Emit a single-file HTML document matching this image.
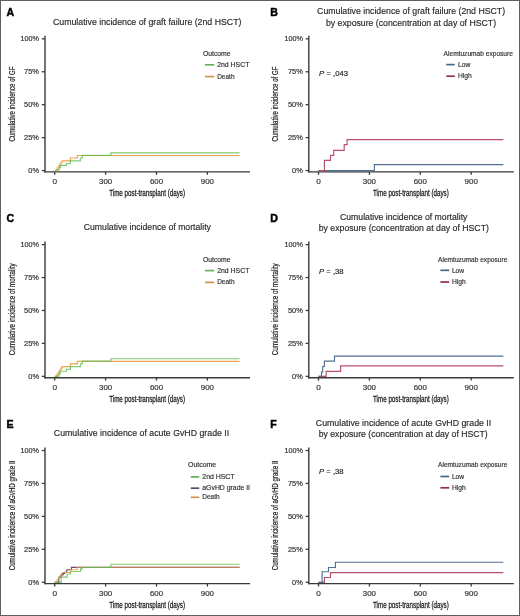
<!DOCTYPE html>
<html><head><meta charset="utf-8"><style>
html,body{margin:0;padding:0;background:#fff;}
.fig{position:relative;width:520px;height:616px;background:#fff;overflow:hidden;}
svg{position:absolute;left:0;top:0;will-change:transform;}
text{font-family:"Liberation Sans", sans-serif;}
</style></head><body>
<div class="fig"><svg width="520" height="616" viewBox="0 0 520 616">
<text x="6.50" y="15.80" font-size="10.6" font-weight="bold" fill="#000" stroke="#000" stroke-width="0.45">A</text>
<text x="147.20" y="25.05" font-size="9.7" text-anchor="middle" textLength="188.50" lengthAdjust="spacingAndGlyphs" fill="#2a2a2a" stroke="#2a2a2a" stroke-width="0.18">Cumulative incidence of graft failure (2nd HSCT)</text>
<line x1="45.00" y1="35.80" x2="45.00" y2="172.60" stroke="#3a3a3a" stroke-width="1.4"/>
<line x1="44.30" y1="171.90" x2="250.00" y2="171.90" stroke="#3a3a3a" stroke-width="1.4"/>
<line x1="41.80" y1="170.55" x2="45.00" y2="170.55" stroke="#3a3a3a" stroke-width="1.3"/>
<text x="39.00" y="173.15" font-size="7.2" text-anchor="end" textLength="10.70" lengthAdjust="spacingAndGlyphs" fill="#333" stroke="#333" stroke-width="0.18">0%</text>
<line x1="41.80" y1="137.62" x2="45.00" y2="137.62" stroke="#3a3a3a" stroke-width="1.3"/>
<text x="39.00" y="140.22" font-size="7.2" text-anchor="end" textLength="14.90" lengthAdjust="spacingAndGlyphs" fill="#333" stroke="#333" stroke-width="0.18">25%</text>
<line x1="41.80" y1="104.69" x2="45.00" y2="104.69" stroke="#3a3a3a" stroke-width="1.3"/>
<text x="39.00" y="107.29" font-size="7.2" text-anchor="end" textLength="14.90" lengthAdjust="spacingAndGlyphs" fill="#333" stroke="#333" stroke-width="0.18">50%</text>
<line x1="41.80" y1="71.76" x2="45.00" y2="71.76" stroke="#3a3a3a" stroke-width="1.3"/>
<text x="39.00" y="74.36" font-size="7.2" text-anchor="end" textLength="14.90" lengthAdjust="spacingAndGlyphs" fill="#333" stroke="#333" stroke-width="0.18">75%</text>
<line x1="41.80" y1="38.83" x2="45.00" y2="38.83" stroke="#3a3a3a" stroke-width="1.3"/>
<text x="39.00" y="41.43" font-size="7.2" text-anchor="end" textLength="18.40" lengthAdjust="spacingAndGlyphs" fill="#333" stroke="#333" stroke-width="0.18">100%</text>
<line x1="54.70" y1="172.00" x2="54.70" y2="174.80" stroke="#3a3a3a" stroke-width="1.3"/>
<text x="54.70" y="184.40" font-size="7.6" text-anchor="middle" textLength="4.60" lengthAdjust="spacingAndGlyphs" fill="#333" stroke="#333" stroke-width="0.18">0</text>
<line x1="105.60" y1="172.00" x2="105.60" y2="174.80" stroke="#3a3a3a" stroke-width="1.3"/>
<text x="105.60" y="184.40" font-size="7.6" text-anchor="middle" textLength="13.20" lengthAdjust="spacingAndGlyphs" fill="#333" stroke="#333" stroke-width="0.18">300</text>
<line x1="156.50" y1="172.00" x2="156.50" y2="174.80" stroke="#3a3a3a" stroke-width="1.3"/>
<text x="156.50" y="184.40" font-size="7.6" text-anchor="middle" textLength="13.20" lengthAdjust="spacingAndGlyphs" fill="#333" stroke="#333" stroke-width="0.18">600</text>
<line x1="207.40" y1="172.00" x2="207.40" y2="174.80" stroke="#3a3a3a" stroke-width="1.3"/>
<text x="207.40" y="184.40" font-size="7.6" text-anchor="middle" textLength="13.20" lengthAdjust="spacingAndGlyphs" fill="#333" stroke="#333" stroke-width="0.18">900</text>
<text x="147.10" y="195.80" font-size="8.6" text-anchor="middle" textLength="75.80" lengthAdjust="spacingAndGlyphs" fill="#222" stroke="#222" stroke-width="0.27">Time post-transplant (days)</text>
<text transform="translate(14.60,104.10) rotate(-90)" x="0" y="0" font-size="8.2" text-anchor="middle" textLength="75.00" lengthAdjust="spacingAndGlyphs" fill="#222" stroke="#222" stroke-width="0.2">Cumulative incidence of GF</text>
<text x="202.90" y="55.80" font-size="6.9" textLength="27.70" lengthAdjust="spacingAndGlyphs" fill="#333" stroke="#333" stroke-width="0.18">Outcome</text>
<line x1="205.00" y1="64.80" x2="214.20" y2="64.80" stroke="#62b457" stroke-width="1.7"/>
<text x="217.20" y="67.00" font-size="6.9" textLength="32.20" lengthAdjust="spacingAndGlyphs" fill="#333" stroke="#333" stroke-width="0.18">2nd HSCT</text>
<line x1="205.00" y1="76.60" x2="214.20" y2="76.60" stroke="#d0924c" stroke-width="1.7"/>
<text x="217.20" y="78.50" font-size="6.9" textLength="17.30" lengthAdjust="spacingAndGlyphs" fill="#333" stroke="#333" stroke-width="0.18">Death</text>
<path d="M54.70,170.60 L56.30,170.60 L56.30,169.50 L57.20,169.50 L57.20,168.00 L58.20,168.00 L58.20,166.50 L59.20,166.50 L59.20,165.00 L60.20,165.00 L60.20,163.50 L61.20,163.50 L61.20,162.00 L62.30,162.00 L62.30,160.80 L70.40,160.80 L70.40,158.00 L77.30,158.00 L77.30,155.50 L239.60,155.50" fill="none" stroke="#e9a552" stroke-width="1.15" stroke-linejoin="miter"/>
<path d="M54.70,170.60 L58.60,170.60 L58.60,169.00 L59.60,169.00 L59.60,167.30 L60.60,167.30 L60.60,165.40 L66.50,165.40 L66.50,163.50 L70.40,163.50 L70.40,160.80 L80.40,160.80 L80.40,158.00 L82.30,158.00 L82.30,155.30 L110.80,155.30 L110.80,152.90 L239.60,152.90" fill="none" stroke="#62bd55" stroke-width="1.15" stroke-linejoin="miter" stroke-opacity="0.8"/>
<text x="270.30" y="15.80" font-size="10.6" font-weight="bold" fill="#000" stroke="#000" stroke-width="0.45">B</text>
<text x="411.10" y="13.75" font-size="9.7" text-anchor="middle" textLength="188.00" lengthAdjust="spacingAndGlyphs" fill="#2a2a2a" stroke="#2a2a2a" stroke-width="0.18">Cumulative incidence of graft failure (2nd HSCT)</text>
<text x="411.00" y="25.65" font-size="9.7" text-anchor="middle" textLength="170.10" lengthAdjust="spacingAndGlyphs" fill="#2a2a2a" stroke="#2a2a2a" stroke-width="0.18">by exposure (concentration at day of HSCT)</text>
<line x1="308.80" y1="35.80" x2="308.80" y2="172.60" stroke="#3a3a3a" stroke-width="1.4"/>
<line x1="308.10" y1="171.90" x2="513.80" y2="171.90" stroke="#3a3a3a" stroke-width="1.4"/>
<line x1="305.60" y1="170.55" x2="308.80" y2="170.55" stroke="#3a3a3a" stroke-width="1.3"/>
<text x="302.80" y="173.15" font-size="7.2" text-anchor="end" textLength="10.70" lengthAdjust="spacingAndGlyphs" fill="#333" stroke="#333" stroke-width="0.18">0%</text>
<line x1="305.60" y1="137.62" x2="308.80" y2="137.62" stroke="#3a3a3a" stroke-width="1.3"/>
<text x="302.80" y="140.22" font-size="7.2" text-anchor="end" textLength="14.90" lengthAdjust="spacingAndGlyphs" fill="#333" stroke="#333" stroke-width="0.18">25%</text>
<line x1="305.60" y1="104.69" x2="308.80" y2="104.69" stroke="#3a3a3a" stroke-width="1.3"/>
<text x="302.80" y="107.29" font-size="7.2" text-anchor="end" textLength="14.90" lengthAdjust="spacingAndGlyphs" fill="#333" stroke="#333" stroke-width="0.18">50%</text>
<line x1="305.60" y1="71.76" x2="308.80" y2="71.76" stroke="#3a3a3a" stroke-width="1.3"/>
<text x="302.80" y="74.36" font-size="7.2" text-anchor="end" textLength="14.90" lengthAdjust="spacingAndGlyphs" fill="#333" stroke="#333" stroke-width="0.18">75%</text>
<line x1="305.60" y1="38.83" x2="308.80" y2="38.83" stroke="#3a3a3a" stroke-width="1.3"/>
<text x="302.80" y="41.43" font-size="7.2" text-anchor="end" textLength="18.40" lengthAdjust="spacingAndGlyphs" fill="#333" stroke="#333" stroke-width="0.18">100%</text>
<line x1="318.50" y1="172.00" x2="318.50" y2="174.80" stroke="#3a3a3a" stroke-width="1.3"/>
<text x="318.50" y="184.40" font-size="7.6" text-anchor="middle" textLength="4.60" lengthAdjust="spacingAndGlyphs" fill="#333" stroke="#333" stroke-width="0.18">0</text>
<line x1="369.40" y1="172.00" x2="369.40" y2="174.80" stroke="#3a3a3a" stroke-width="1.3"/>
<text x="369.40" y="184.40" font-size="7.6" text-anchor="middle" textLength="13.20" lengthAdjust="spacingAndGlyphs" fill="#333" stroke="#333" stroke-width="0.18">300</text>
<line x1="420.30" y1="172.00" x2="420.30" y2="174.80" stroke="#3a3a3a" stroke-width="1.3"/>
<text x="420.30" y="184.40" font-size="7.6" text-anchor="middle" textLength="13.20" lengthAdjust="spacingAndGlyphs" fill="#333" stroke="#333" stroke-width="0.18">600</text>
<line x1="471.20" y1="172.00" x2="471.20" y2="174.80" stroke="#3a3a3a" stroke-width="1.3"/>
<text x="471.20" y="184.40" font-size="7.6" text-anchor="middle" textLength="13.20" lengthAdjust="spacingAndGlyphs" fill="#333" stroke="#333" stroke-width="0.18">900</text>
<text x="410.90" y="195.80" font-size="8.6" text-anchor="middle" textLength="75.80" lengthAdjust="spacingAndGlyphs" fill="#222" stroke="#222" stroke-width="0.27">Time post-transplant (days)</text>
<text transform="translate(278.40,104.10) rotate(-90)" x="0" y="0" font-size="8.2" text-anchor="middle" textLength="75.00" lengthAdjust="spacingAndGlyphs" fill="#222" stroke="#222" stroke-width="0.2">Cumulative incidence of GF</text>
<text x="443.60" y="55.70" font-size="6.9" textLength="69.30" lengthAdjust="spacingAndGlyphs" fill="#333" stroke="#333" stroke-width="0.18">Alemtuzumab exposure</text>
<line x1="446.30" y1="64.60" x2="454.80" y2="64.60" stroke="#3f6a8c" stroke-width="1.7"/>
<text x="458.00" y="66.90" font-size="6.9" textLength="12.30" lengthAdjust="spacingAndGlyphs" fill="#333" stroke="#333" stroke-width="0.18">Low</text>
<line x1="446.30" y1="76.20" x2="454.80" y2="76.20" stroke="#962f4e" stroke-width="1.7"/>
<text x="458.00" y="78.30" font-size="6.9" textLength="13.80" lengthAdjust="spacingAndGlyphs" fill="#333" stroke="#333" stroke-width="0.18">High</text>
<text x="319.10" y="75.60" font-size="8.1" textLength="29.00" lengthAdjust="spacingAndGlyphs" fill="#222" stroke="#222" stroke-width="0.18"><tspan font-style="italic">P</tspan> = ,043</text>
<path d="M318.50,170.60 L374.40,170.60 L374.40,164.60 L503.40,164.60" fill="none" stroke="#52708f" stroke-width="1.15" stroke-linejoin="miter"/>
<path d="M318.50,170.60 L324.40,170.60 L324.40,160.30 L330.50,160.30 L330.50,155.30 L333.70,155.30 L333.70,150.40 L344.20,150.40 L344.20,144.60 L347.10,144.60 L347.10,139.60 L503.40,139.60" fill="none" stroke="#b94f69" stroke-width="1.15" stroke-linejoin="miter"/>
<text x="6.50" y="221.60" font-size="10.6" font-weight="bold" fill="#000" stroke="#000" stroke-width="0.45">C</text>
<text x="147.35" y="230.25" font-size="9.7" text-anchor="middle" textLength="127.10" lengthAdjust="spacingAndGlyphs" fill="#2a2a2a" stroke="#2a2a2a" stroke-width="0.18">Cumulative incidence of mortality</text>
<line x1="45.00" y1="241.60" x2="45.00" y2="378.40" stroke="#3a3a3a" stroke-width="1.4"/>
<line x1="44.30" y1="377.70" x2="250.00" y2="377.70" stroke="#3a3a3a" stroke-width="1.4"/>
<line x1="41.80" y1="376.35" x2="45.00" y2="376.35" stroke="#3a3a3a" stroke-width="1.3"/>
<text x="39.00" y="378.95" font-size="7.2" text-anchor="end" textLength="10.70" lengthAdjust="spacingAndGlyphs" fill="#333" stroke="#333" stroke-width="0.18">0%</text>
<line x1="41.80" y1="343.42" x2="45.00" y2="343.42" stroke="#3a3a3a" stroke-width="1.3"/>
<text x="39.00" y="346.02" font-size="7.2" text-anchor="end" textLength="14.90" lengthAdjust="spacingAndGlyphs" fill="#333" stroke="#333" stroke-width="0.18">25%</text>
<line x1="41.80" y1="310.49" x2="45.00" y2="310.49" stroke="#3a3a3a" stroke-width="1.3"/>
<text x="39.00" y="313.09" font-size="7.2" text-anchor="end" textLength="14.90" lengthAdjust="spacingAndGlyphs" fill="#333" stroke="#333" stroke-width="0.18">50%</text>
<line x1="41.80" y1="277.56" x2="45.00" y2="277.56" stroke="#3a3a3a" stroke-width="1.3"/>
<text x="39.00" y="280.16" font-size="7.2" text-anchor="end" textLength="14.90" lengthAdjust="spacingAndGlyphs" fill="#333" stroke="#333" stroke-width="0.18">75%</text>
<line x1="41.80" y1="244.63" x2="45.00" y2="244.63" stroke="#3a3a3a" stroke-width="1.3"/>
<text x="39.00" y="247.23" font-size="7.2" text-anchor="end" textLength="18.40" lengthAdjust="spacingAndGlyphs" fill="#333" stroke="#333" stroke-width="0.18">100%</text>
<line x1="54.70" y1="377.80" x2="54.70" y2="380.60" stroke="#3a3a3a" stroke-width="1.3"/>
<text x="54.70" y="390.20" font-size="7.6" text-anchor="middle" textLength="4.60" lengthAdjust="spacingAndGlyphs" fill="#333" stroke="#333" stroke-width="0.18">0</text>
<line x1="105.60" y1="377.80" x2="105.60" y2="380.60" stroke="#3a3a3a" stroke-width="1.3"/>
<text x="105.60" y="390.20" font-size="7.6" text-anchor="middle" textLength="13.20" lengthAdjust="spacingAndGlyphs" fill="#333" stroke="#333" stroke-width="0.18">300</text>
<line x1="156.50" y1="377.80" x2="156.50" y2="380.60" stroke="#3a3a3a" stroke-width="1.3"/>
<text x="156.50" y="390.20" font-size="7.6" text-anchor="middle" textLength="13.20" lengthAdjust="spacingAndGlyphs" fill="#333" stroke="#333" stroke-width="0.18">600</text>
<line x1="207.40" y1="377.80" x2="207.40" y2="380.60" stroke="#3a3a3a" stroke-width="1.3"/>
<text x="207.40" y="390.20" font-size="7.6" text-anchor="middle" textLength="13.20" lengthAdjust="spacingAndGlyphs" fill="#333" stroke="#333" stroke-width="0.18">900</text>
<text x="147.10" y="401.60" font-size="8.6" text-anchor="middle" textLength="75.80" lengthAdjust="spacingAndGlyphs" fill="#222" stroke="#222" stroke-width="0.27">Time post-transplant (days)</text>
<text transform="translate(14.60,309.30) rotate(-90)" x="0" y="0" font-size="8.2" text-anchor="middle" textLength="92.00" lengthAdjust="spacingAndGlyphs" fill="#222" stroke="#222" stroke-width="0.2">Cumulative incidence of mortality</text>
<text x="202.90" y="261.60" font-size="6.9" textLength="27.70" lengthAdjust="spacingAndGlyphs" fill="#333" stroke="#333" stroke-width="0.18">Outcome</text>
<line x1="205.00" y1="270.60" x2="214.20" y2="270.60" stroke="#62b457" stroke-width="1.7"/>
<text x="217.20" y="272.80" font-size="6.9" textLength="32.20" lengthAdjust="spacingAndGlyphs" fill="#333" stroke="#333" stroke-width="0.18">2nd HSCT</text>
<line x1="205.00" y1="282.40" x2="214.20" y2="282.40" stroke="#d0924c" stroke-width="1.7"/>
<text x="217.20" y="284.30" font-size="6.9" textLength="17.30" lengthAdjust="spacingAndGlyphs" fill="#333" stroke="#333" stroke-width="0.18">Death</text>
<path d="M54.70,376.40 L56.30,376.40 L56.30,375.30 L57.20,375.30 L57.20,373.80 L58.20,373.80 L58.20,372.30 L59.20,372.30 L59.20,370.80 L60.20,370.80 L60.20,369.30 L61.20,369.30 L61.20,367.80 L62.30,367.80 L62.30,366.60 L70.40,366.60 L70.40,363.80 L77.30,363.80 L77.30,361.30 L239.60,361.30" fill="none" stroke="#e9a552" stroke-width="1.15" stroke-linejoin="miter"/>
<path d="M54.70,376.40 L58.60,376.40 L58.60,374.80 L59.60,374.80 L59.60,373.10 L60.60,373.10 L60.60,371.20 L66.50,371.20 L66.50,369.30 L70.40,369.30 L70.40,366.60 L80.40,366.60 L80.40,363.80 L82.30,363.80 L82.30,361.10 L110.80,361.10 L110.80,358.70 L239.60,358.70" fill="none" stroke="#62bd55" stroke-width="1.15" stroke-linejoin="miter" stroke-opacity="0.8"/>
<text x="270.30" y="221.60" font-size="10.6" font-weight="bold" fill="#000" stroke="#000" stroke-width="0.45">D</text>
<text x="403.70" y="219.75" font-size="9.7" text-anchor="middle" textLength="127.40" lengthAdjust="spacingAndGlyphs" fill="#2a2a2a" stroke="#2a2a2a" stroke-width="0.18">Cumulative incidence of mortality</text>
<text x="403.80" y="230.65" font-size="9.7" text-anchor="middle" textLength="170.20" lengthAdjust="spacingAndGlyphs" fill="#2a2a2a" stroke="#2a2a2a" stroke-width="0.18">by exposure (concentration at day of HSCT)</text>
<line x1="308.80" y1="241.60" x2="308.80" y2="378.40" stroke="#3a3a3a" stroke-width="1.4"/>
<line x1="308.10" y1="377.70" x2="513.80" y2="377.70" stroke="#3a3a3a" stroke-width="1.4"/>
<line x1="305.60" y1="376.35" x2="308.80" y2="376.35" stroke="#3a3a3a" stroke-width="1.3"/>
<text x="302.80" y="378.95" font-size="7.2" text-anchor="end" textLength="10.70" lengthAdjust="spacingAndGlyphs" fill="#333" stroke="#333" stroke-width="0.18">0%</text>
<line x1="305.60" y1="343.42" x2="308.80" y2="343.42" stroke="#3a3a3a" stroke-width="1.3"/>
<text x="302.80" y="346.02" font-size="7.2" text-anchor="end" textLength="14.90" lengthAdjust="spacingAndGlyphs" fill="#333" stroke="#333" stroke-width="0.18">25%</text>
<line x1="305.60" y1="310.49" x2="308.80" y2="310.49" stroke="#3a3a3a" stroke-width="1.3"/>
<text x="302.80" y="313.09" font-size="7.2" text-anchor="end" textLength="14.90" lengthAdjust="spacingAndGlyphs" fill="#333" stroke="#333" stroke-width="0.18">50%</text>
<line x1="305.60" y1="277.56" x2="308.80" y2="277.56" stroke="#3a3a3a" stroke-width="1.3"/>
<text x="302.80" y="280.16" font-size="7.2" text-anchor="end" textLength="14.90" lengthAdjust="spacingAndGlyphs" fill="#333" stroke="#333" stroke-width="0.18">75%</text>
<line x1="305.60" y1="244.63" x2="308.80" y2="244.63" stroke="#3a3a3a" stroke-width="1.3"/>
<text x="302.80" y="247.23" font-size="7.2" text-anchor="end" textLength="18.40" lengthAdjust="spacingAndGlyphs" fill="#333" stroke="#333" stroke-width="0.18">100%</text>
<line x1="318.50" y1="377.80" x2="318.50" y2="380.60" stroke="#3a3a3a" stroke-width="1.3"/>
<text x="318.50" y="390.20" font-size="7.6" text-anchor="middle" textLength="4.60" lengthAdjust="spacingAndGlyphs" fill="#333" stroke="#333" stroke-width="0.18">0</text>
<line x1="369.40" y1="377.80" x2="369.40" y2="380.60" stroke="#3a3a3a" stroke-width="1.3"/>
<text x="369.40" y="390.20" font-size="7.6" text-anchor="middle" textLength="13.20" lengthAdjust="spacingAndGlyphs" fill="#333" stroke="#333" stroke-width="0.18">300</text>
<line x1="420.30" y1="377.80" x2="420.30" y2="380.60" stroke="#3a3a3a" stroke-width="1.3"/>
<text x="420.30" y="390.20" font-size="7.6" text-anchor="middle" textLength="13.20" lengthAdjust="spacingAndGlyphs" fill="#333" stroke="#333" stroke-width="0.18">600</text>
<line x1="471.20" y1="377.80" x2="471.20" y2="380.60" stroke="#3a3a3a" stroke-width="1.3"/>
<text x="471.20" y="390.20" font-size="7.6" text-anchor="middle" textLength="13.20" lengthAdjust="spacingAndGlyphs" fill="#333" stroke="#333" stroke-width="0.18">900</text>
<text x="410.90" y="401.60" font-size="8.6" text-anchor="middle" textLength="75.80" lengthAdjust="spacingAndGlyphs" fill="#222" stroke="#222" stroke-width="0.27">Time post-transplant (days)</text>
<text transform="translate(278.40,309.30) rotate(-90)" x="0" y="0" font-size="8.2" text-anchor="middle" textLength="92.00" lengthAdjust="spacingAndGlyphs" fill="#222" stroke="#222" stroke-width="0.2">Cumulative incidence of mortality</text>
<text x="438.10" y="261.50" font-size="6.9" textLength="69.20" lengthAdjust="spacingAndGlyphs" fill="#333" stroke="#333" stroke-width="0.18">Alemtuzumab exposure</text>
<line x1="440.40" y1="270.30" x2="449.20" y2="270.30" stroke="#3f6a8c" stroke-width="1.7"/>
<text x="451.90" y="272.80" font-size="6.9" textLength="12.30" lengthAdjust="spacingAndGlyphs" fill="#333" stroke="#333" stroke-width="0.18">Low</text>
<line x1="440.40" y1="282.00" x2="449.20" y2="282.00" stroke="#962f4e" stroke-width="1.7"/>
<text x="451.90" y="284.20" font-size="6.9" textLength="13.80" lengthAdjust="spacingAndGlyphs" fill="#333" stroke="#333" stroke-width="0.18">High</text>
<text x="319.10" y="273.50" font-size="8.1" textLength="24.40" lengthAdjust="spacingAndGlyphs" fill="#222" stroke="#222" stroke-width="0.18"><tspan font-style="italic">P</tspan> = ,38</text>
<path d="M318.50,376.40 L326.10,376.40 L326.10,371.30 L340.60,371.30 L340.60,365.90 L503.40,365.90" fill="none" stroke="#b94f69" stroke-width="1.15" stroke-linejoin="miter"/>
<path d="M318.50,376.40 L321.50,376.40 L321.50,376.50 L321.50,376.50 L321.50,372.00 L322.70,372.00 L322.70,366.50 L324.40,366.50 L324.40,361.10 L334.50,361.10 L334.50,356.10 L503.40,356.10" fill="none" stroke="#52708f" stroke-width="1.15" stroke-linejoin="miter"/>
<text x="6.50" y="427.50" font-size="10.6" font-weight="bold" fill="#000" stroke="#000" stroke-width="0.45">E</text>
<text x="141.50" y="436.15" font-size="9.7" text-anchor="middle" textLength="175.40" lengthAdjust="spacingAndGlyphs" fill="#2a2a2a" stroke="#2a2a2a" stroke-width="0.18">Cumulative incidence of acute GvHD grade II</text>
<line x1="45.00" y1="447.50" x2="45.00" y2="584.30" stroke="#3a3a3a" stroke-width="1.4"/>
<line x1="44.30" y1="583.60" x2="250.00" y2="583.60" stroke="#3a3a3a" stroke-width="1.4"/>
<line x1="41.80" y1="582.25" x2="45.00" y2="582.25" stroke="#3a3a3a" stroke-width="1.3"/>
<text x="39.00" y="584.85" font-size="7.2" text-anchor="end" textLength="10.70" lengthAdjust="spacingAndGlyphs" fill="#333" stroke="#333" stroke-width="0.18">0%</text>
<line x1="41.80" y1="549.32" x2="45.00" y2="549.32" stroke="#3a3a3a" stroke-width="1.3"/>
<text x="39.00" y="551.92" font-size="7.2" text-anchor="end" textLength="14.90" lengthAdjust="spacingAndGlyphs" fill="#333" stroke="#333" stroke-width="0.18">25%</text>
<line x1="41.80" y1="516.39" x2="45.00" y2="516.39" stroke="#3a3a3a" stroke-width="1.3"/>
<text x="39.00" y="518.99" font-size="7.2" text-anchor="end" textLength="14.90" lengthAdjust="spacingAndGlyphs" fill="#333" stroke="#333" stroke-width="0.18">50%</text>
<line x1="41.80" y1="483.46" x2="45.00" y2="483.46" stroke="#3a3a3a" stroke-width="1.3"/>
<text x="39.00" y="486.06" font-size="7.2" text-anchor="end" textLength="14.90" lengthAdjust="spacingAndGlyphs" fill="#333" stroke="#333" stroke-width="0.18">75%</text>
<line x1="41.80" y1="450.53" x2="45.00" y2="450.53" stroke="#3a3a3a" stroke-width="1.3"/>
<text x="39.00" y="453.13" font-size="7.2" text-anchor="end" textLength="18.40" lengthAdjust="spacingAndGlyphs" fill="#333" stroke="#333" stroke-width="0.18">100%</text>
<line x1="54.70" y1="583.70" x2="54.70" y2="586.50" stroke="#3a3a3a" stroke-width="1.3"/>
<text x="54.70" y="596.10" font-size="7.6" text-anchor="middle" textLength="4.60" lengthAdjust="spacingAndGlyphs" fill="#333" stroke="#333" stroke-width="0.18">0</text>
<line x1="105.60" y1="583.70" x2="105.60" y2="586.50" stroke="#3a3a3a" stroke-width="1.3"/>
<text x="105.60" y="596.10" font-size="7.6" text-anchor="middle" textLength="13.20" lengthAdjust="spacingAndGlyphs" fill="#333" stroke="#333" stroke-width="0.18">300</text>
<line x1="156.50" y1="583.70" x2="156.50" y2="586.50" stroke="#3a3a3a" stroke-width="1.3"/>
<text x="156.50" y="596.10" font-size="7.6" text-anchor="middle" textLength="13.20" lengthAdjust="spacingAndGlyphs" fill="#333" stroke="#333" stroke-width="0.18">600</text>
<line x1="207.40" y1="583.70" x2="207.40" y2="586.50" stroke="#3a3a3a" stroke-width="1.3"/>
<text x="207.40" y="596.10" font-size="7.6" text-anchor="middle" textLength="13.20" lengthAdjust="spacingAndGlyphs" fill="#333" stroke="#333" stroke-width="0.18">900</text>
<text x="147.10" y="607.50" font-size="8.6" text-anchor="middle" textLength="75.80" lengthAdjust="spacingAndGlyphs" fill="#222" stroke="#222" stroke-width="0.27">Time post-transplant (days)</text>
<text transform="translate(14.60,515.50) rotate(-90)" x="0" y="0" font-size="8.2" text-anchor="middle" textLength="109.60" lengthAdjust="spacingAndGlyphs" fill="#222" stroke="#222" stroke-width="0.2">Cumulative incidence of aGvHD grade II</text>
<text x="188.00" y="467.30" font-size="6.9" textLength="28.20" lengthAdjust="spacingAndGlyphs" fill="#333" stroke="#333" stroke-width="0.18">Outcome</text>
<line x1="190.80" y1="476.90" x2="199.20" y2="476.90" stroke="#62b457" stroke-width="1.7"/>
<text x="202.30" y="478.60" font-size="6.9" textLength="32.20" lengthAdjust="spacingAndGlyphs" fill="#333" stroke="#333" stroke-width="0.18">2nd HSCT</text>
<line x1="190.80" y1="488.20" x2="199.20" y2="488.20" stroke="#634872" stroke-width="1.7"/>
<text x="202.30" y="489.90" font-size="6.9" textLength="47.70" lengthAdjust="spacingAndGlyphs" fill="#333" stroke="#333" stroke-width="0.18">aGvHD grade II</text>
<line x1="190.80" y1="497.30" x2="199.20" y2="497.30" stroke="#d0924c" stroke-width="1.7"/>
<text x="202.30" y="499.20" font-size="6.9" textLength="17.30" lengthAdjust="spacingAndGlyphs" fill="#333" stroke="#333" stroke-width="0.18">Death</text>
<path d="M54.70,582.30 L58.80,582.30 L58.80,577.40 L60.30,577.40 L60.30,576.00 L61.80,576.00 L61.80,574.60 L63.20,574.60 L63.20,573.30 L64.60,573.30 L64.60,572.20 L66.80,572.20 L66.80,569.70 L71.40,569.70 L71.40,567.40 L239.60,567.40" fill="none" stroke="#6a4a78" stroke-width="1.15" stroke-linejoin="miter"/>
<path d="M54.70,582.30 L56.30,582.30 L56.30,581.20 L57.20,581.20 L57.20,579.70 L58.20,579.70 L58.20,578.20 L59.20,578.20 L59.20,576.70 L60.20,576.70 L60.20,575.20 L61.20,575.20 L61.20,573.70 L62.30,573.70 L62.30,572.50 L70.40,572.50 L70.40,569.70 L77.30,569.70 L77.30,567.20 L239.60,567.20" fill="none" stroke="#e9a552" stroke-width="1.15" stroke-linejoin="miter" stroke-opacity="0.85"/>
<path d="M54.70,582.30 L61.20,582.30 L61.20,577.10 L67.10,577.10 L67.10,574.00 L70.50,574.00 L70.50,571.50 L80.60,571.50 L80.60,568.80 L82.20,568.80 L82.20,567.50 L110.80,567.50 L110.80,564.20 L239.60,564.20" fill="none" stroke="#62bd55" stroke-width="1.15" stroke-linejoin="miter" stroke-opacity="0.8"/>
<text x="270.30" y="427.50" font-size="10.6" font-weight="bold" fill="#000" stroke="#000" stroke-width="0.45">F</text>
<text x="403.50" y="425.65" font-size="9.7" text-anchor="middle" textLength="175.40" lengthAdjust="spacingAndGlyphs" fill="#2a2a2a" stroke="#2a2a2a" stroke-width="0.18">Cumulative incidence of acute GvHD grade II</text>
<text x="403.20" y="437.15" font-size="9.7" text-anchor="middle" textLength="169.00" lengthAdjust="spacingAndGlyphs" fill="#2a2a2a" stroke="#2a2a2a" stroke-width="0.18">by exposure (concentration at day of HSCT)</text>
<line x1="308.80" y1="447.50" x2="308.80" y2="584.30" stroke="#3a3a3a" stroke-width="1.4"/>
<line x1="308.10" y1="583.60" x2="513.80" y2="583.60" stroke="#3a3a3a" stroke-width="1.4"/>
<line x1="305.60" y1="582.25" x2="308.80" y2="582.25" stroke="#3a3a3a" stroke-width="1.3"/>
<text x="302.80" y="584.85" font-size="7.2" text-anchor="end" textLength="10.70" lengthAdjust="spacingAndGlyphs" fill="#333" stroke="#333" stroke-width="0.18">0%</text>
<line x1="305.60" y1="549.32" x2="308.80" y2="549.32" stroke="#3a3a3a" stroke-width="1.3"/>
<text x="302.80" y="551.92" font-size="7.2" text-anchor="end" textLength="14.90" lengthAdjust="spacingAndGlyphs" fill="#333" stroke="#333" stroke-width="0.18">25%</text>
<line x1="305.60" y1="516.39" x2="308.80" y2="516.39" stroke="#3a3a3a" stroke-width="1.3"/>
<text x="302.80" y="518.99" font-size="7.2" text-anchor="end" textLength="14.90" lengthAdjust="spacingAndGlyphs" fill="#333" stroke="#333" stroke-width="0.18">50%</text>
<line x1="305.60" y1="483.46" x2="308.80" y2="483.46" stroke="#3a3a3a" stroke-width="1.3"/>
<text x="302.80" y="486.06" font-size="7.2" text-anchor="end" textLength="14.90" lengthAdjust="spacingAndGlyphs" fill="#333" stroke="#333" stroke-width="0.18">75%</text>
<line x1="305.60" y1="450.53" x2="308.80" y2="450.53" stroke="#3a3a3a" stroke-width="1.3"/>
<text x="302.80" y="453.13" font-size="7.2" text-anchor="end" textLength="18.40" lengthAdjust="spacingAndGlyphs" fill="#333" stroke="#333" stroke-width="0.18">100%</text>
<line x1="318.50" y1="583.70" x2="318.50" y2="586.50" stroke="#3a3a3a" stroke-width="1.3"/>
<text x="318.50" y="596.10" font-size="7.6" text-anchor="middle" textLength="4.60" lengthAdjust="spacingAndGlyphs" fill="#333" stroke="#333" stroke-width="0.18">0</text>
<line x1="369.40" y1="583.70" x2="369.40" y2="586.50" stroke="#3a3a3a" stroke-width="1.3"/>
<text x="369.40" y="596.10" font-size="7.6" text-anchor="middle" textLength="13.20" lengthAdjust="spacingAndGlyphs" fill="#333" stroke="#333" stroke-width="0.18">300</text>
<line x1="420.30" y1="583.70" x2="420.30" y2="586.50" stroke="#3a3a3a" stroke-width="1.3"/>
<text x="420.30" y="596.10" font-size="7.6" text-anchor="middle" textLength="13.20" lengthAdjust="spacingAndGlyphs" fill="#333" stroke="#333" stroke-width="0.18">600</text>
<line x1="471.20" y1="583.70" x2="471.20" y2="586.50" stroke="#3a3a3a" stroke-width="1.3"/>
<text x="471.20" y="596.10" font-size="7.6" text-anchor="middle" textLength="13.20" lengthAdjust="spacingAndGlyphs" fill="#333" stroke="#333" stroke-width="0.18">900</text>
<text x="410.90" y="607.50" font-size="8.6" text-anchor="middle" textLength="75.80" lengthAdjust="spacingAndGlyphs" fill="#222" stroke="#222" stroke-width="0.27">Time post-transplant (days)</text>
<text transform="translate(278.40,515.50) rotate(-90)" x="0" y="0" font-size="8.2" text-anchor="middle" textLength="109.60" lengthAdjust="spacingAndGlyphs" fill="#222" stroke="#222" stroke-width="0.2">Cumulative incidence of aGvHD grade II</text>
<text x="438.10" y="467.30" font-size="6.9" textLength="69.20" lengthAdjust="spacingAndGlyphs" fill="#333" stroke="#333" stroke-width="0.18">Alemtuzumab exposure</text>
<line x1="440.40" y1="476.50" x2="449.20" y2="476.50" stroke="#3f6a8c" stroke-width="1.7"/>
<text x="451.90" y="478.80" font-size="6.9" textLength="12.30" lengthAdjust="spacingAndGlyphs" fill="#333" stroke="#333" stroke-width="0.18">Low</text>
<line x1="440.40" y1="487.80" x2="449.20" y2="487.80" stroke="#962f4e" stroke-width="1.7"/>
<text x="451.90" y="490.00" font-size="6.9" textLength="13.80" lengthAdjust="spacingAndGlyphs" fill="#333" stroke="#333" stroke-width="0.18">High</text>
<text x="319.10" y="474.30" font-size="8.1" textLength="24.40" lengthAdjust="spacingAndGlyphs" fill="#222" stroke="#222" stroke-width="0.18"><tspan font-style="italic">P</tspan> = ,38</text>
<path d="M318.50,582.30 L324.40,582.30 L324.40,577.50 L330.50,577.50 L330.50,572.60 L503.40,572.60" fill="none" stroke="#b94f69" stroke-width="1.15" stroke-linejoin="miter"/>
<path d="M318.50,582.30 L322.10,582.30 L322.10,571.70 L328.50,571.70 L328.50,567.50 L335.40,567.50 L335.40,562.20 L503.40,562.20" fill="none" stroke="#52708f" stroke-width="1.15" stroke-linejoin="miter"/>
<rect x="0.5" y="0.5" width="519" height="615" fill="none" stroke="#5e5e5e" stroke-width="1"/>
</svg></div>
</body></html>
